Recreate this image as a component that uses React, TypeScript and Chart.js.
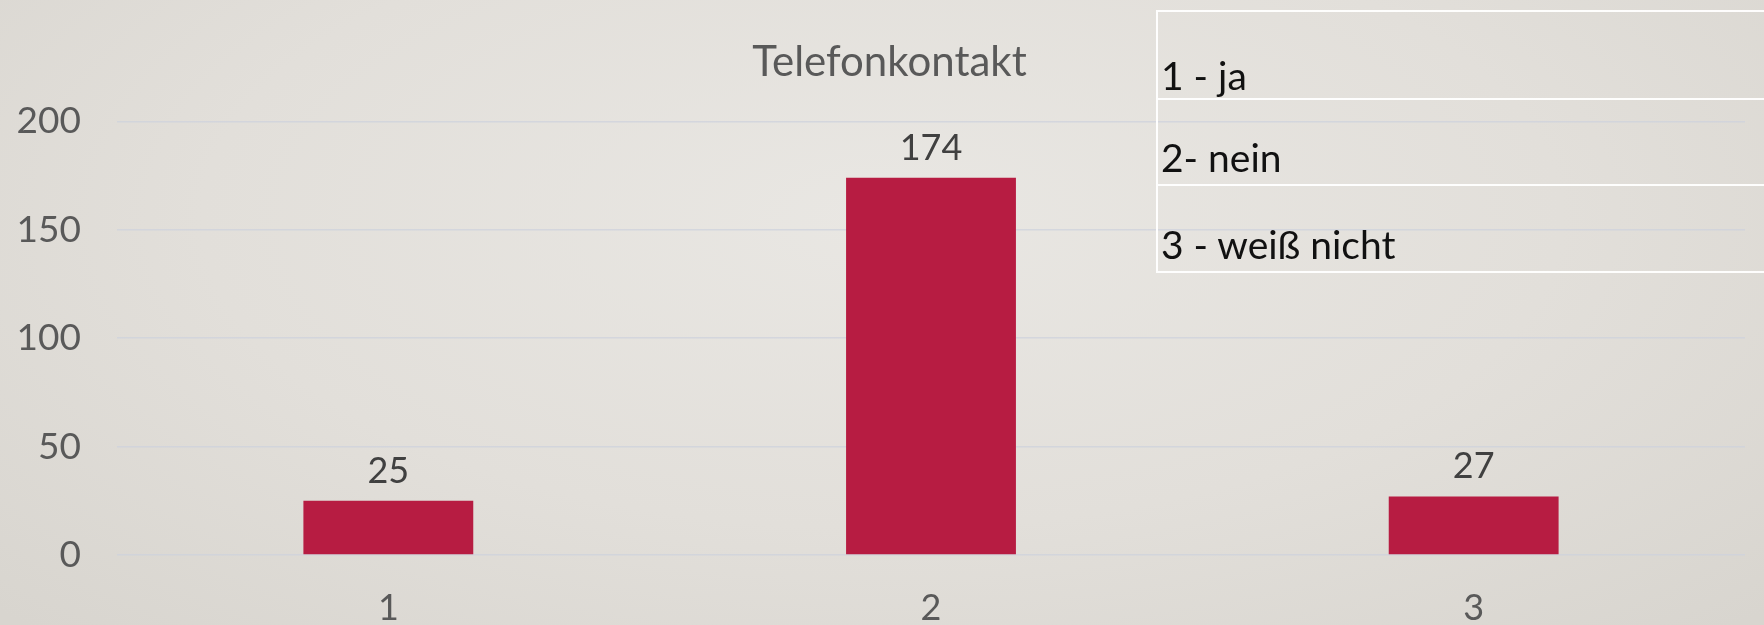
import React, { useEffect, useRef } from "react";
import { Chart, registerables } from "chart.js";

Chart.register(...registerables);

const categories: string[] = ["1", "2", "3"];
const values: number[] = [25, 174, 27];
const yMin = 0;
const yMax = 200;
const yStep = 50;
const chartTitle = "Telefonkontakt";
const legendRows: string[] = ["1 - ja", "2- nein", "3 - weiß nicht"];

const FONT = "Lato, 'Open Sans', sans-serif";

const valueLabelPlugin = {
  id: "valueLabels",
  afterLayout(chart: any) {
    // the reference title sits slightly right of the canvas centre
    const tb = chart.titleBlock;
    if (tb) {
      tb.left += 17;
      tb.right += 17;
    }
  },
  afterDatasetsDraw(chart: any) {
    const ctx = chart.ctx;
    const meta = chart.getDatasetMeta(0);
    ctx.save();
    ctx.font = `36px ${FONT}`;
    ctx.fillStyle = "#404040";
    ctx.textAlign = "center";
    ctx.textBaseline = "alphabetic";
    meta.data.forEach((bar: any, i: number) => {
      const v = chart.data.datasets[0].data[i];
      ctx.fillText(String(v), bar.x, bar.y - 18);
    });
    ctx.restore();
  },
};

export default function App() {
  const canvasRef = useRef<HTMLCanvasElement | null>(null);

  useEffect(() => {
    document.body.style.margin = "0";
    const canvas = canvasRef.current;
    if (!canvas) return;
    const chart = new Chart(canvas, {
      type: "bar",
      data: {
        labels: categories,
        datasets: [
          {
            data: values,
            backgroundColor: "#b71c42",
            borderWidth: 0,
            categoryPercentage: 1,
            barPercentage: 0.313,
          },
        ],
      },
      options: {
        animation: false,
        responsive: false,
        maintainAspectRatio: false,
        layout: { padding: { top: 0, right: 19, bottom: 0, left: 0 } },
        plugins: {
          legend: { display: false },
          tooltip: { enabled: false },
          title: {
            display: true,
            text: chartTitle,
            color: "#595959",
            font: { family: FONT, size: 42, weight: "normal" },
            padding: { top: 37, bottom: 34 },
          },
        },
        scales: {
          x: {
            grid: { display: false, drawTicks: false },
            border: { display: false },
            ticks: {
              color: "#595959",
              font: { family: FONT, size: 36 },
              padding: 32,
            },
            afterFit: (s: any) => {
              s.height = 70;
            },
          },
          y: {
            min: yMin,
            max: yMax,
            ticks: {
              stepSize: yStep,
              color: "#595959",
              font: { family: FONT, size: 37 },
              padding: 36,
            },
            grid: {
              color: "rgba(205,210,220,0.75)",
              lineWidth: 1.5,
              drawTicks: false,
            },
            border: { display: false },
            afterFit: (s: any) => {
              s.width = 117;
            },
          },
        },
      },
      plugins: [valueLabelPlugin],
    });
    return () => chart.destroy();
  }, []);

  const rowHeights = [86, 86, 87];
  const rowPadBottom = [3, 7, 7];

  return (
    <div
      style={{
        position: "relative",
        width: 1764,
        height: 625,
        overflow: "hidden",
        background:
          "radial-gradient(ellipse 70% 90% at 50% 35%, #e9e7e3 0%, #e2dfda 55%, #d8d5cf 100%)",
      }}
    >
      <canvas
        ref={canvasRef}
        width={1764}
        height={625}
        style={{ position: "absolute", left: 0, top: 0, width: 1764, height: 625 }}
      />
      <div
        style={{
          position: "absolute",
          left: 1156,
          top: 10,
          width: 640,
          border: "2px solid rgba(255,255,255,0.95)",
          borderRight: "none",
        }}
      >
        {legendRows.map((t, i) => (
          <div
            key={i}
            style={{
              height: rowHeights[i],
              borderTop: i === 0 ? "none" : "2px solid rgba(255,255,255,0.95)",
              display: "flex",
              alignItems: "flex-end",
              paddingLeft: 3,
              paddingBottom: rowPadBottom[i],
              boxSizing: "border-box",
              fontFamily: FONT,
              fontSize: 39,
              lineHeight: "40px",
              color: "#111",
              whiteSpace: "nowrap",
            }}
          >
            {t}
          </div>
        ))}
      </div>
    </div>
  );
}
